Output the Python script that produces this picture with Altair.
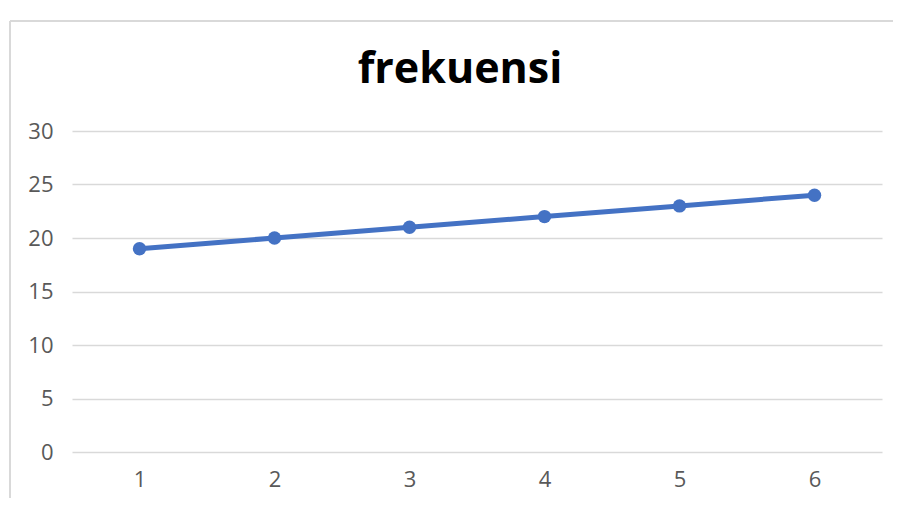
import altair as alt
import pandas as pd

categories = ["1", "2", "3", "4", "5", "6"]
values = [19, 20, 21, 22, 23, 24]
y_ticks = [0, 5, 10, 15, 20, 25, 30]

df = pd.DataFrame({"kategori": categories, "frekuensi": values})

x_enc = alt.X("kategori:N", sort=categories, title=None,
              scale=alt.Scale(paddingInner=0, paddingOuter=0.5),
              axis=alt.Axis(labelAngle=0, ticks=False, domain=False, grid=False,
                            labelFontSize=22, labelColor="#595959",
                            labelFont="Open Sans", labelPadding=17))
y_enc = alt.Y("frekuensi:Q", title=None,
              scale=alt.Scale(domain=[0, 30], nice=False),
              axis=alt.Axis(values=y_ticks, ticks=False, domain=False,
                            gridColor="#d9d9d9", gridWidth=1.5,
                            labelFontSize=22, labelColor="#595959",
                            labelFont="Open Sans", labelPadding=19))

line = alt.Chart(df).mark_line(color="#4472C4", strokeWidth=5).encode(x=x_enc, y=y_enc)
pts = alt.Chart(df).mark_point(filled=True, opacity=1, color="#4472C4", size=180).encode(
    x=alt.X("kategori:N", sort=categories), y="frekuensi:Q")

border_left = alt.Chart(df).mark_rule(color="#d9d9d9", strokeWidth=1.5).encode(
    x=alt.value(-62), y=alt.value(-110), y2=alt.value(367))
border_top = alt.Chart(df).mark_rule(color="#d9d9d9", strokeWidth=1.5).encode(
    x=alt.value(-62), x2=alt.value(821), y=alt.value(-110))

chart = alt.layer(border_left, border_top, line, pts).properties(
    width=810, height=321,
    padding={"left": 64, "top": 123, "right": 11, "bottom": 46},
    autosize=alt.AutoSizeParams(type="none"),
    title=alt.TitleParams("frekuensi", fontSize=43, fontWeight="bold", color="#000000",
                          font="Open Sans", anchor="middle", dx=-17, offset=-72),
).configure_view(stroke=None)

chart.save("out.html", embed_options={"renderer": "svg", "actions": False})
